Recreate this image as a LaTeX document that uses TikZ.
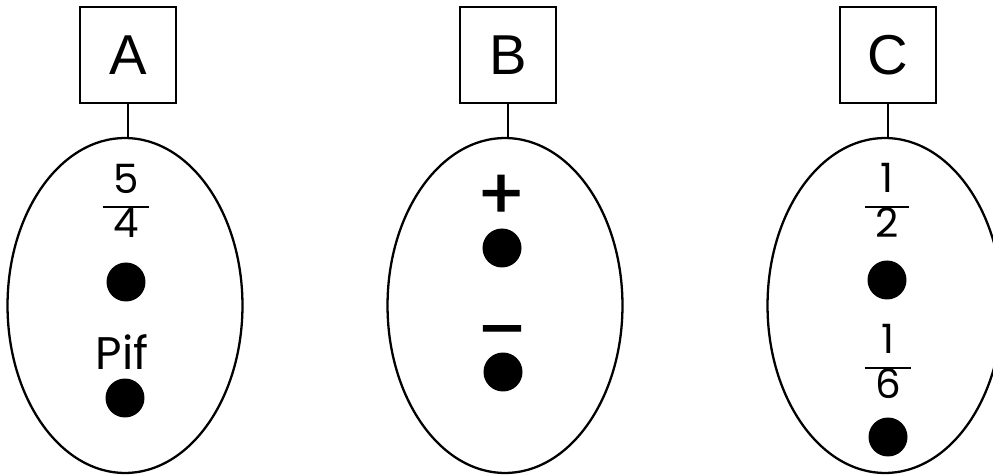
\documentclass[tikz,border=0pt]{standalone}
\usepackage{fontspec}
\setmainfont{Liberation Sans}
\newfontfamily\hand{Poppins}
\newfontfamily\signfont[FakeBold=1.6]{Poppins}
\usetikzlibrary{shapes.geometric}
\tikzset{
  lbox/.style={draw,line width=1.3pt,minimum width=1.92cm,minimum height=1.92cm,inner sep=0pt,font=\fontsize{32}{34}\selectfont},
  oval/.style={draw,ellipse,line width=1.3pt,minimum width=4.7cm,minimum height=6.7cm,inner sep=0pt},
  dot/.style={circle,fill=black,minimum size=0.78cm,inner sep=0pt},
  hw/.style={font=\hand\fontsize{23}{24}\selectfont,inner sep=0pt},
  sign/.style={font=\signfont\fontsize{40}{42}\selectfont,inner sep=0pt}
}
\newcommand{\frc}[2]{{\setlength\tabcolsep{6pt}\setlength\arrayrulewidth{1.5pt}\begin{tabular}{c}#1\\\hline #2\end{tabular}}}

\begin{document}
\begin{tikzpicture}[x=0.02cm,y=-0.02cm]
  \useasboundingbox (0,0) rectangle (993,475);
  % boxes and ovals (1 unit = 1 px, y downwards)
  \node[lbox] (boxA) at (128,55) {A};
  \node[lbox] (boxB) at (508,55) {B};
  \node[lbox] (boxC) at (888,55) {C};
  \node[oval] (ovA) at (125,305.5) {};
  \node[oval] (ovB) at (505,305.5) {};
  \node[oval] (ovC) at (885,305.5) {};
  \draw[line width=1.3pt] (boxA) -- (boxA |- ovA.north);
  \draw[line width=1.3pt] (boxB) -- (boxB |- ovB.north);
  \draw[line width=1.3pt] (boxC) -- (boxC |- ovC.north);
  % set A
  \node[hw] (fracA) at (126,207) {\frc{5}{4}};
  \node[dot] (dotA1) at (126,282) {};
  \node[hw,font=\hand\fontsize{26}{28}\selectfont] (pif) at (122,352) {Pif};
  \node[dot] (dotA2) at (125,398) {};
  % set B
  \node[sign] (plus) at (501,197) {+};
  \node[sign] (minus) at (502,340) {–};
  \node[dot] (dotB1) at (502,248) {};
  \node[dot] (dotB2) at (503,372) {};
  % set C
  \node[hw] (fracC1) at (887,207) {\frc{1}{2}};
  \node[dot] (dotC1) at (887,280) {};
  \node[hw] (fracC2) at (888,368) {\frc{1}{6}};
  \node[dot] (dotC2) at (888,437) {};
\end{tikzpicture}
\end{document}
